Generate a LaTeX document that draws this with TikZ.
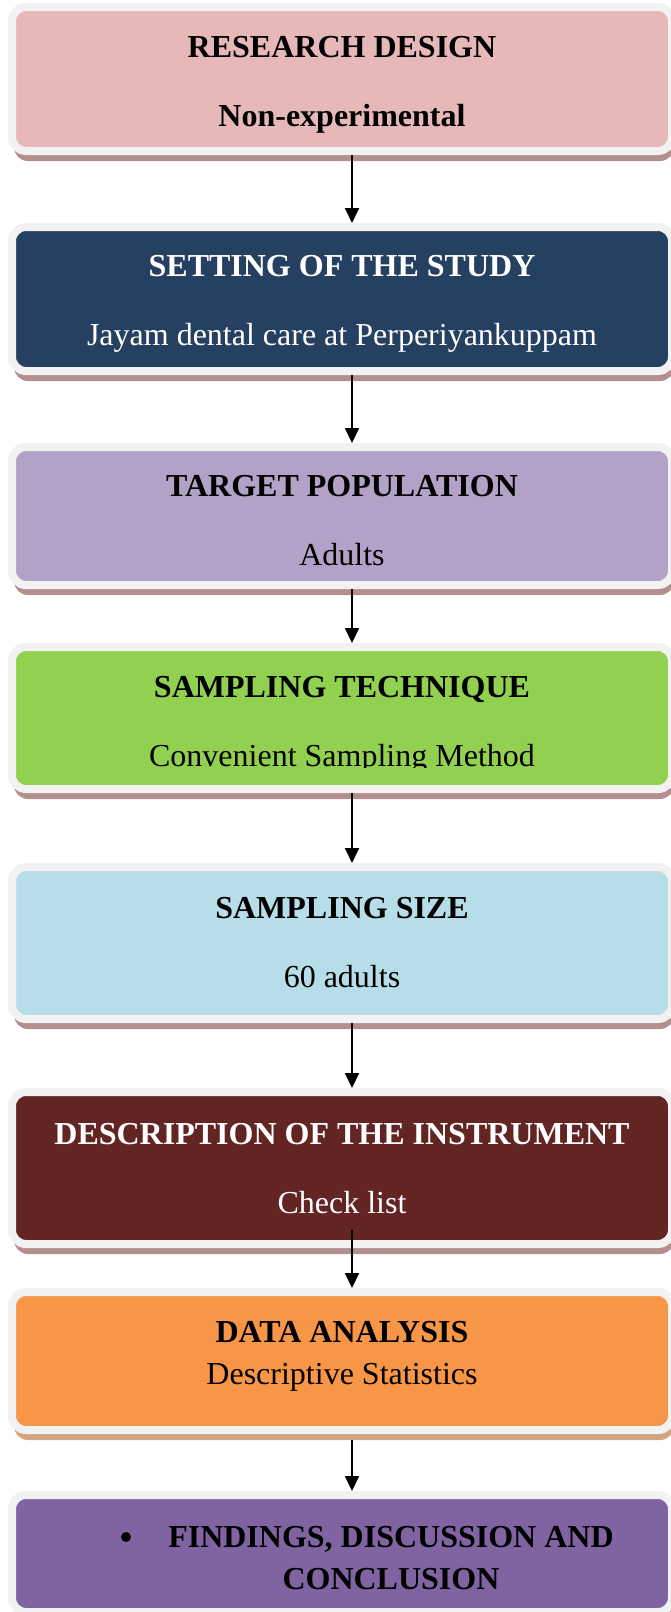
\documentclass[tikz,border=0pt]{standalone}
\usepackage{fontspec}
\setmainfont{Liberation Serif}
\usetikzlibrary{arrows.meta,shadows}
\usetikzlibrary{positioning}
\definecolor{designc}{HTML}{E6B8B7}
\definecolor{settingc}{HTML}{254061}
\definecolor{targetc}{HTML}{B2A2C7}
\definecolor{techniquec}{HTML}{92D050}
\definecolor{sizec}{HTML}{B7DEE8}
\definecolor{instrumentc}{HTML}{632523}
\definecolor{analysisc}{HTML}{F79646}
\definecolor{findingsc}{HTML}{8064A2}
\definecolor{framegray}{HTML}{F2F2F2}
\definecolor{shadebrown}{HTML}{B38F8D}
\definecolor{shadetan}{HTML}{D3A480}
\tikzset{
    stage/.style 2 args={
           rectangle,
           rounded corners=14pt,
           draw=framegray, line width=8pt,
           fill=#1,
           minimum width=660pt,
           inner sep=0pt, outer sep=4pt,
           general shadow={fill=#2, shadow xshift=2pt, shadow yshift=-10pt},
           },
}
\tikzset{
    head/.style={
           anchor=base,
           inner sep=0pt,
           font=\fontsize{32pt}{38pt}\selectfont\bfseries,
           },
    sub/.style={
           anchor=base,
           inner sep=0pt,
           font=\fontsize{32pt}{38pt}\selectfont,
           },
    flow/.style={
           line width=2pt,
           -{Triangle[length=15pt,width=14pt]},
           },
}

\begin{document}
\begin{tikzpicture}[x=1pt,y=-1pt]
\useasboundingbox (0,0) rectangle (670,1612);
\node[stage={designc}{shadebrown},minimum height=144pt](design) at (342,79){};
\node[stage={settingc}{shadebrown},minimum height=144pt,below=68pt of design](setting){};
\node[stage={targetc}{shadebrown},minimum height=138pt,below=68pt of setting](target){};
\node[stage={techniquec}{shadebrown},minimum height=142pt,below=54pt of target](technique){};
\node[stage={sizec}{shadebrown},minimum height=152pt,below=70pt of technique](size){};
\node[stage={instrumentc}{shadebrown},minimum height=152pt,below=65pt of size](instrument){};
\node[stage={analysisc}{shadetan},minimum height=138pt,below=40pt of instrument](analysis){};
\node[stage={findingsc}{shadebrown},minimum height=117pt,below=57pt of analysis](findings){};

\node[head](designH) at ([yshift=22pt]design.center){RESEARCH DESIGN};
\node[head](designS) at ([yshift=-47pt]design.center){Non-experimental};
\node[head,text=white](settingH) at ([yshift=23pt]setting.center){SETTING OF THE STUDY};
\node[sub,text=white](settingS) at ([yshift=-46pt]setting.center){Jayam dental care at Perperiyankuppam};
\node[head](targetH) at ([yshift=20pt]target.center){TARGET POPULATION};
\node[sub](targetS) at ([yshift=-49pt]target.center){Adults};
\node[head](techniqueH) at ([yshift=21pt]technique.center){SAMPLING TECHNIQUE};
\begin{scope}
\clip ([yshift=-49pt]technique.west) rectangle (technique.north east);
\node[sub](techniqueS) at ([yshift=-48pt]technique.center){Convenient Sampling Method};
\end{scope}
\node[head](sizeH) at ([yshift=25pt]size.center){SAMPLING SIZE};
\node[sub](sizeS) at ([yshift=-44pt]size.center){60 adults};
\node[head,text=white](instrumentH) at ([yshift=24pt]instrument.center){DESCRIPTION OF THE INSTRUMENT};
\node[sub,text=white](instrumentS) at ([yshift=-45pt]instrument.center){Check list};
\node[head](analysisH) at ([yshift=19pt]analysis.center){DATA ANALYSIS};
\node[sub](analysisS) at ([yshift=-23pt]analysis.center){Descriptive Statistics};
\node[circle,fill=black,inner sep=0pt,minimum size=10pt](findingsB) at ([xshift=-216pt,yshift=16.5pt]findings.center){};
\node[head](findingsH) at ([xshift=49pt,yshift=6.5pt]findings.center){FINDINGS, DISCUSSION AND};
\node[head](findingsS) at ([xshift=49pt,yshift=-35.5pt]findings.center){CONCLUSION};

\draw[flow] ([xshift=10pt]design.south) -- ([xshift=10pt]setting.north);
\draw[flow] ([xshift=10pt]setting.south) -- ([xshift=10pt]target.north);
\draw[flow] ([xshift=10pt]target.south) -- ([xshift=10pt]technique.north);
\draw[flow] ([xshift=10pt]technique.south) -- ([xshift=10pt]size.north);
\draw[flow] ([xshift=10pt]size.south) -- ([xshift=10pt]instrument.north);
\draw[flow] ([xshift=10pt,yshift=18pt]instrument.south) -- ([xshift=10pt]analysis.north);
\draw[flow] ([xshift=10pt,yshift=-6pt]analysis.south) -- ([xshift=10pt]findings.north);
\end{tikzpicture}
\end{document}
